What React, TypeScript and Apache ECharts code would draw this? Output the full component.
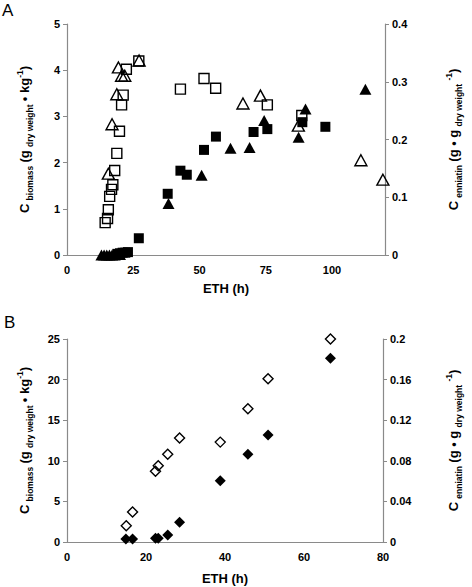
import React, { useEffect, useRef } from "react";
import * as echarts from "echarts";

// ---- Panel A data ----
// open squares (biomass, left axis)
const aOpenSqX = [14.4, 15.3, 15.6, 16.1, 16.8, 17.3, 18.0, 18.8, 19.8, 20.6, 21.2, 22.4, 27.1, 42.8, 51.7, 56.1, 75.6, 88.6];
const aOpenSqY = [0.70, 0.79, 0.98, 1.27, 1.42, 1.52, 1.83, 2.20, 2.68, 3.25, 3.46, 4.02, 4.20, 3.59, 3.82, 3.61, 3.25, 3.02];
// open triangles (biomass, left axis)
const aOpenTriX = [15.6, 17.0, 18.8, 19.4, 20.6, 21.8, 27.2, 66.4, 73.0, 87.3, 110.9, 119.2];
const aOpenTriY = [1.76, 2.83, 3.48, 4.06, 3.88, 3.88, 4.21, 3.28, 3.45, 2.80, 2.05, 1.63];
// filled squares (enniatin, right axis)
const aFillSqX = [19.0, 20.0, 21.0, 22.0, 23.0, 27.1, 38.0, 42.8, 45.2, 51.7, 56.2, 70.4, 75.6, 88.8, 97.5];
const aFillSqY = [0.002, 0.003, 0.004, 0.004, 0.005, 0.029, 0.106, 0.146, 0.139, 0.182, 0.205, 0.213, 0.218, 0.230, 0.222];
// filled triangles (enniatin, right axis)
const aFillTriX = [13.0, 14.0, 15.0, 16.0, 17.0, 18.0, 19.0, 20.0, 38.3, 50.8, 61.7, 68.9, 74.4, 87.4, 90.0, 112.6];
const aFillTriY = [0, 0, 0, 0, 0, 0, 0.001, 0.001, 0.089, 0.138, 0.185, 0.186, 0.233, 0.204, 0.253, 0.287];

// ---- Panel B data ----
const bOpenX = [15.0, 16.6, 22.4, 23.1, 25.5, 28.5, 38.8, 45.8, 50.9, 66.7];
const bOpenY = [2.0, 3.7, 8.7, 9.4, 10.8, 12.8, 12.3, 16.4, 20.1, 25.0];
const bFillX = [14.9, 16.6, 22.4, 23.1, 25.5, 28.5, 38.8, 45.8, 50.9, 66.7];
const bFillY = [0.003, 0.003, 0.0036, 0.0036, 0.0069, 0.0194, 0.0604, 0.0864, 0.1054, 0.181];

// ---- tick settings ----
const aXTicks = { min: 0, max: 120, interval: 25 };
const aYLeft = { min: 0, max: 5, interval: 1 };
const aYRight = { min: 0, max: 0.4, interval: 0.1 };
const bXTicks = { min: 0, max: 80, interval: 20 };
const bYLeft = { min: 0, max: 25, interval: 5 };
const bYRight = { min: 0, max: 0.2, interval: 0.04 };

const FONT = "Liberation Sans, Arial, sans-serif";
const AXIS_GRAY = "#8a8a8a";

const pairs = (xs: number[], ys: number[]) => xs.map((x, i) => [x, ys[i]]);

const richStyles = {
  b: { fontSize: 13, fontWeight: "bold", fontFamily: FONT, color: "#000", lineHeight: 22, verticalAlign: "middle" },
  s: { fontSize: 8.5, fontWeight: "bold", fontFamily: FONT, color: "#000", lineHeight: 22, verticalAlign: "bottom", padding: [0, 0, 1, 0] },
  sup: { fontSize: 8.5, fontWeight: "bold", fontFamily: FONT, color: "#000", lineHeight: 22, verticalAlign: "top", padding: [2, 0, 0, 0] },
};

const biomassName = "{b|C} {s|biomass} {b|(g} {s|dry weight} {b|• kg}{sup|-1}{b|)}";
const enniatinName = "{b|C} {s|enniatin} {b|(g • g} {s|dry weight} {sup|-1}{b|)}";

const tickLabel = { color: "#000", fontSize: 11, fontWeight: "bold", fontFamily: FONT };

function fmt(v: number) {
  const r = Math.round(v * 1000) / 1000;
  return String(r);
}

function xAxis(gridIndex: number, t: any, gap: number) {
  return {
    type: "value",
    gridIndex,
    min: t.min,
    max: t.max,
    interval: t.interval,
    name: "ETH (h)",
    nameLocation: "middle",
    nameGap: gap,
    nameTextStyle: { color: "#000", fontSize: 13, fontWeight: "bold", fontFamily: FONT },
    axisLine: { show: true, lineStyle: { color: AXIS_GRAY, width: 1.2 } },
    axisTick: { show: false },
    axisLabel: { ...tickLabel, margin: 9, showMaxLabel: t.max % t.interval === 0 },
    splitLine: { show: false },
  };
}

function yAxis(gridIndex: number, t: any, position: string, name: string, gap: number) {
  return {
    type: "value",
    gridIndex,
    position,
    min: t.min,
    max: t.max,
    interval: t.interval,
    name,
    nameLocation: "middle",
    nameRotate: 90,
    nameGap: gap,
    nameTextStyle: { rich: richStyles },
    axisLine: { show: true, onZero: false, lineStyle: { color: AXIS_GRAY, width: 1.2 } },
    axisTick: { show: true, inside: false, length: 4, lineStyle: { color: AXIS_GRAY } },
    axisLabel: { ...tickLabel, margin: 7, formatter: (v: number) => fmt(v) },
    splitLine: { show: false },
  };
}

const openStyle = { color: "rgba(0,0,0,0)", borderColor: "#000", borderWidth: 1.4, opacity: 1 };
const fillStyle = { color: "#000", borderColor: "#000", borderWidth: 0, opacity: 1 };

export default function App() {
  const ref = useRef<HTMLDivElement>(null);
  useEffect(() => {
    document.body.style.margin = "0";
    if (!ref.current) return;
    const chart = echarts.init(ref.current, null, { renderer: "svg" });
    chart.setOption({
      animation: false,
      backgroundColor: "#fff",
      grid: [
        { left: 67, right: 67, top: 24, height: 231 },
        { left: 67, right: 69, top: 339, height: 203 },
      ],
      xAxis: [xAxis(0, aXTicks, 27), xAxis(1, bXTicks, 30)],
      yAxis: [
        yAxis(0, aYLeft, "left", biomassName, 32),
        yAxis(0, aYRight, "right", enniatinName, 57),
        yAxis(1, bYLeft, "left", biomassName, 32),
        yAxis(1, bYRight, "right", enniatinName, 59),
      ],
      graphic: [
        { type: "text", left: 2, top: 2, style: { text: "A", font: "17px " + FONT, fill: "#000" } },
        { type: "text", left: 4, top: 314, style: { text: "B", font: "17px " + FONT, fill: "#000" } },
      ],
      series: [
        { type: "scatter", xAxisIndex: 0, yAxisIndex: 0, symbol: "rect", symbolSize: 10, itemStyle: openStyle, data: pairs(aOpenSqX, aOpenSqY) },
        { type: "scatter", xAxisIndex: 0, yAxisIndex: 0, symbol: "triangle", symbolSize: [12, 11], itemStyle: openStyle, data: pairs(aOpenTriX, aOpenTriY) },
        { type: "scatter", xAxisIndex: 0, yAxisIndex: 1, symbol: "rect", symbolSize: 10, itemStyle: fillStyle, data: pairs(aFillSqX, aFillSqY) },
        { type: "scatter", xAxisIndex: 0, yAxisIndex: 1, symbol: "triangle", symbolSize: [12, 11], itemStyle: fillStyle, data: pairs(aFillTriX, aFillTriY) },
        { type: "scatter", xAxisIndex: 1, yAxisIndex: 2, symbol: "diamond", symbolSize: 10, itemStyle: openStyle, data: pairs(bOpenX, bOpenY) },
        { type: "scatter", xAxisIndex: 1, yAxisIndex: 3, symbol: "diamond", symbolSize: 11, itemStyle: fillStyle, data: pairs(bFillX, bFillY) },
      ],
    });
    return () => chart.dispose();
  }, []);
  return <div ref={ref} style={{ width: 472, height: 587 }} />;
}
